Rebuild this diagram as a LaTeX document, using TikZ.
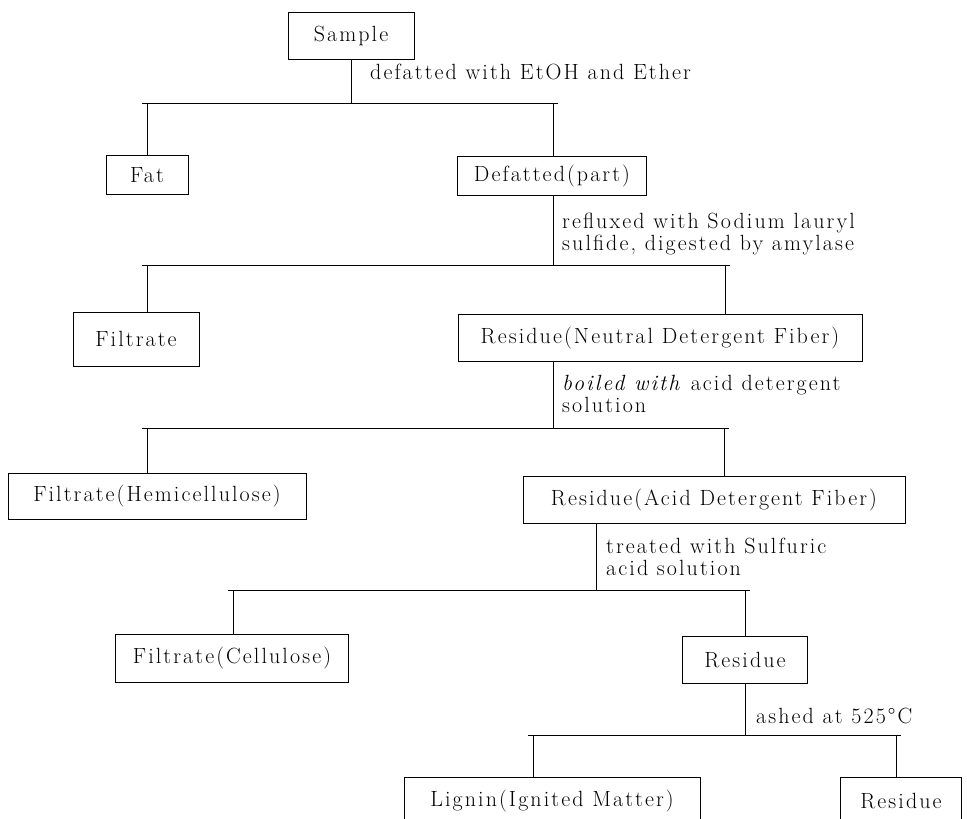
\documentclass[tikz,border=0pt]{standalone}
\usepackage{fontspec}
\setmainfont{Latin Modern Roman}
\newcommand\stagefont{\fontsize{22}{22}\selectfont\addfontfeatures{LetterSpace=9.5}}
\tikzset{
  stagebox/.style={draw, line width=0.9pt, inner sep=0pt, minimum height=47pt, font=\stagefont},
  steplabel/.style={anchor=west, align=left, inner sep=0pt, font=\stagefont},
  link/.style={line width=0.9pt},
}

\begin{document}
\begin{tikzpicture}[x=1pt,y=-1pt]
    \clip (0,0) rectangle (967,819);
    % stages
    \node[stagebox, minimum width=126pt] (sample) at (351,36) {Sample};
    \node[stagebox, minimum width=82pt, minimum height=39pt] (fat) at (147,175) {Fat};
    \node[stagebox, minimum width=189pt, minimum height=39pt] (defat) at (552,176) {Defatted(part)};
    \node[stagebox, minimum width=126pt, minimum height=54pt] (filt) at (136,339) {Filtrate};
    \node[stagebox, minimum width=404pt] (ndf) at (660,338) {Residue(Neutral Detergent Fiber)};
    \node[stagebox, minimum width=298pt, minimum height=46pt] (hemi) at (157,496) {Filtrate(Hemicellulose)};
    \node[stagebox, minimum width=382pt] (adf) at (714,500) {Residue(Acid Detergent Fiber)};
    \node[stagebox, minimum width=233pt, minimum height=48pt] (cell) at (232,658) {Filtrate(Cellulose)};
    \node[stagebox, minimum width=125pt] (res) at (745,660) {Residue};
    \node[stagebox, minimum width=296pt, minimum height=48pt] (lig) at (552,801) {Lignin(Ignited Matter)};
    \node[stagebox, minimum width=121pt, minimum height=48pt] (ash) at (901,801) {Residue};
    % treatments
    \node[steplabel] (t1) at (370,72) {defatted with EtOH and Ether};
    \node[steplabel] (t2) at (562,234) {refluxed with Sodium lauryl\\sulfide, digested by amylase};
    \node[steplabel] (t3) at (562,394) {\textit{boiled with} acid detergent\\solution};
    \node[steplabel] (t4) at (606,557) {treated with Sulfuric\\acid solution};
    \node[steplabel] (t5) at (756,716) {ashed at 525°C};
    % split points: level/y/left/right/parent
    \foreach \n/\y/\l/\r/\p in {1/103/147/553/351,2/265/147/725/553,3/428/147/724/553,4/590/233/745/596,5/735/533/896/745}{%
      \coordinate (c\n l) at (\l,\y);
      \coordinate (c\n r) at (\r,\y);
      \coordinate (c\n p) at (\p,\y);
      \draw[link] ([xshift=-5pt]c\n l) -- ([xshift=5pt]c\n r);
    }
    % stems
    \draw[link] (sample.south -| c1p) -- (c1p);
    \draw[link] (c1l) -- (c1l |- fat.north);
    \draw[link] (c1r) -- (c1r |- defat.north);
    \draw[link] (defat.south -| c2p) -- (c2p);
    \draw[link] (c2l) -- (c2l |- filt.north);
    \draw[link] (c2r) -- (c2r |- ndf.north);
    \draw[link] (ndf.south -| c3p) -- (c3p);
    \draw[link] (c3l) -- (c3l |- hemi.north);
    \draw[link] (c3r) -- (c3r |- adf.north);
    \draw[link] (adf.south -| c4p) -- (c4p);
    \draw[link] (c4l) -- (c4l |- cell.north);
    \draw[link] (c4r) -- (c4r |- res.north);
    \draw[link] (res.south -| c5p) -- (c5p);
    \draw[link] (c5l) -- (c5l |- lig.north);
    \draw[link] (c5r) -- (c5r |- ash.north);
  \end{tikzpicture}
\end{document}
